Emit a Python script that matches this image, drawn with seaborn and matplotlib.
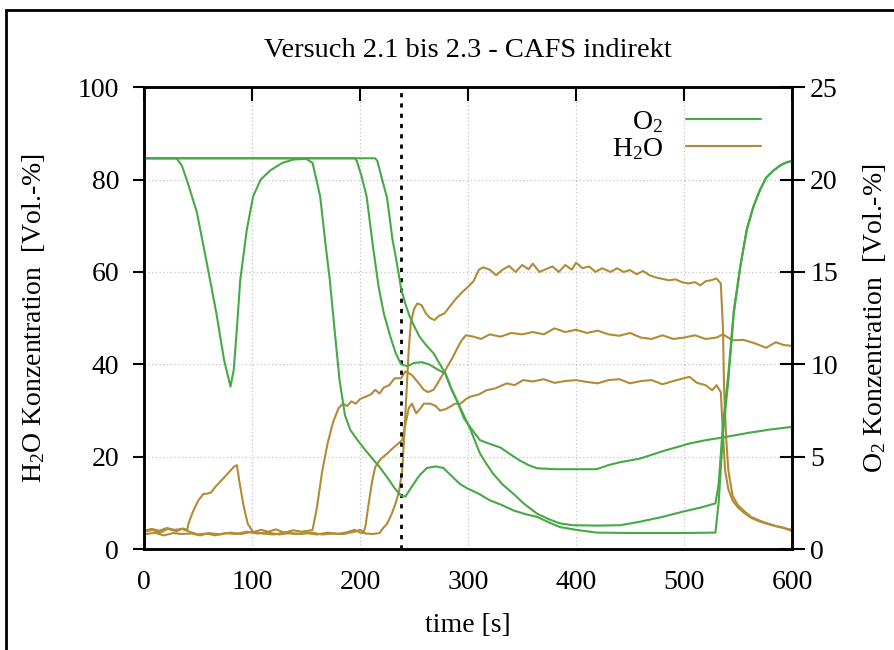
"""Versuch 2.1 bis 2.3 - CAFS indirekt: O2 and H2O concentration over time."""

import matplotlib

matplotlib.use("Agg")

import matplotlib.pyplot as plt
import pandas as pd
import seaborn as sns
from matplotlib.patches import Rectangle

GREEN, GOLD, GRID = "#46a946", "#b38b36", "#c4c4c4"

# --- O2 concentration [Vol.-%] (right axis), three runs -----------------
t_o2_a = [0, 30, 35, 40, 49, 58, 67, 74, 80, 83, 86, 89, 95, 101, 108, 117,
          128, 138, 150, 156, 163, 168, 172, 177, 181, 186, 191, 197, 203,
          210, 218, 225, 232, 238, 242, 248, 255, 262, 270, 277, 285, 292,
          299, 310, 320, 331, 342, 353, 364, 375, 385, 400, 419, 450, 500,
          529, 532, 536, 541, 546, 552, 558, 564, 570, 576, 583, 590, 596, 600]
o2_a = [21.15, 21.15, 20.75, 19.9, 18.2, 15.5, 12.75, 10.25, 8.8, 9.7, 12.0,
        14.55, 17.25, 19.1, 20.0, 20.5, 20.9, 21.08, 21.12, 20.9, 19.1, 16.5,
        14.55, 11.5, 9.15, 7.25, 6.45, 5.95, 5.5, 5.0, 4.45, 3.9, 3.3, 2.9,
        2.85, 3.4, 4.0, 4.4, 4.48, 4.4, 3.95, 3.55, 3.3, 3.0, 2.65, 2.4, 2.1,
        1.9, 1.75, 1.45, 1.2, 1.05, 0.9, 0.88, 0.88, 0.9, 2.5, 6.25, 9.15,
        12.75, 15.25, 17.25, 18.5, 19.4, 20.1, 20.5, 20.8, 20.95, 21.0]

t_o2_b = [0, 195, 197, 201, 206, 212, 217, 222, 228, 233, 238, 244, 250, 257,
          264, 271, 279, 285, 290, 296, 302, 311, 320, 330, 340, 348, 356,
          364, 380, 400, 419, 430, 440, 459, 480, 505, 520, 536, 560, 580, 600]
o2_b = [21.15, 21.15, 21.0, 20.25, 19.1, 16.35, 14.25, 12.75, 11.5, 10.6,
        10.0, 9.9, 10.08, 10.12, 10.0, 9.75, 9.5, 8.6, 8.0, 7.1, 6.6, 5.9,
        5.7, 5.5, 5.1, 4.8, 4.55, 4.38, 4.33, 4.33, 4.33, 4.55, 4.7, 4.9, 5.3,
        5.72, 5.9, 6.05, 6.3, 6.48, 6.62]

t_o2_c = [0, 214, 216, 220, 225, 230, 234, 238, 242, 246, 250, 255, 261, 268,
          274, 279, 284, 290, 296, 302, 311, 317, 323, 332, 342, 352, 364,
          375, 385, 397, 420, 441, 460, 480, 500, 515, 529, 532, 536, 541,
          546, 552, 558, 564, 570, 576, 583, 590, 596, 600]
o2_c = [21.15, 21.15, 21.0, 20.1, 19.0, 16.75, 15.5, 14.1, 13.25, 12.58,
        12.08, 11.5, 11.05, 10.6, 10.0, 9.5, 8.75, 8.0, 7.25, 6.5, 5.18, 4.62,
        4.1, 3.5, 3.0, 2.45, 1.92, 1.62, 1.4, 1.3, 1.28, 1.3, 1.5, 1.75, 2.05,
        2.25, 2.48, 3.5, 6.75, 9.5, 12.9, 15.3, 17.3, 18.5, 19.4, 20.1, 20.5,
        20.8, 20.95, 21.0]

# --- H2O concentration [Vol.-%] (left axis), three runs -----------------
t_h2o_a = [0, 8, 15, 22, 30, 36, 40, 41, 45, 50, 55, 58, 62, 66, 72, 78, 83,
           86, 88, 92, 96, 101, 108, 115, 122, 130, 138, 146, 152, 156, 160,
           165, 170, 175, 180, 184, 188, 192, 196, 200, 205, 210, 214, 218,
           222, 227, 232, 238, 242, 248, 254, 259, 263, 268, 272, 277, 282,
           286, 290, 294, 298, 305, 312, 320, 330, 340, 350, 360, 370, 380,
           390, 400, 410, 420, 430, 440, 450, 460, 470, 480, 490, 500, 510,
           520, 530, 536, 545, 555, 565, 576, 585, 592, 600]
h2o_a = [3.8, 4.2, 3.6, 4.4, 3.9, 4.5, 4.2, 5.5, 8.0, 10.5, 12.0, 12.0, 12.3,
         13.5, 15.0, 16.5, 17.8, 18.2, 15.0, 9.5, 5.5, 3.7, 4.2, 3.8, 4.3,
         3.6, 4.1, 3.8, 4.0, 4.2, 9.0, 17.0, 23.0, 27.5, 30.5, 31.5, 31.0,
         32.0, 31.5, 32.5, 33.0, 33.5, 34.5, 33.7, 35.0, 35.5, 37.0, 37.0,
         38.5, 37.7, 36.0, 34.5, 34.0, 34.5, 36.0, 38.0, 40.0, 41.6, 43.5,
         45.2, 46.3, 46.0, 45.5, 46.5, 46.0, 46.8, 46.5, 47.0, 46.5, 47.8,
         47.0, 47.5, 46.8, 47.3, 46.5, 46.2, 46.8, 45.8, 45.5, 46.3, 45.5,
         45.8, 46.3, 45.5, 45.8, 46.5, 45.2, 45.3, 44.6, 43.6, 44.8, 44.2,
         44.0]

t_h2o_b = [0, 10, 18, 27, 35, 44, 52, 60, 70, 80, 90, 100, 110, 120, 130,
           140, 150, 160, 170, 180, 188, 195, 200, 203, 205, 208, 211, 214,
           219, 225, 231, 236, 239, 242, 245, 248, 252, 256, 259, 265, 270,
           274, 279, 283, 288, 293, 298, 302, 310, 317, 325, 336, 343, 351,
           360, 370, 380, 390, 400, 410, 420, 430, 440, 450, 460, 470, 480,
           490, 500, 505, 512, 520, 526, 530, 534, 536, 538, 541, 545, 550,
           556, 562, 570, 577, 585, 592, 600]
h2o_b = [3.2, 3.6, 3.0, 3.5, 3.3, 3.4, 3.0, 3.5, 3.2, 3.6, 3.3, 3.8, 3.4,
         3.2, 3.6, 3.3, 3.5, 3.2, 3.6, 3.3, 3.7, 4.2, 3.6, 3.5, 5.0, 10.0,
         14.5, 17.8, 19.5, 20.7, 22.0, 23.0, 23.6, 27.0, 30.5, 31.5, 29.4,
         30.5, 31.5, 31.5, 31.0, 30.0, 30.3, 30.8, 31.5, 31.5, 32.5, 33.0,
         33.5, 34.4, 34.8, 35.9, 35.5, 36.6, 36.3, 36.8, 36.0, 36.4, 36.6,
         36.2, 35.9, 36.6, 36.8, 35.9, 36.4, 36.6, 35.7, 36.4, 37.0, 37.3,
         36.0, 35.5, 34.4, 35.5, 34.0, 25.0, 17.0, 13.0, 10.5, 9.0, 7.8, 6.8,
         6.0, 5.5, 5.0, 4.6, 4.2]

t_h2o_c = [0, 7, 14, 21, 28, 35, 42, 50, 58, 66, 75, 85, 95, 105, 115, 125,
           135, 145, 155, 165, 175, 185, 195, 200, 205, 212, 218, 221, 225,
           229, 233, 236, 239, 241, 243, 245, 247, 250, 253, 257, 261, 265,
           269, 273, 278, 283, 288, 294, 300, 305, 310, 314, 320, 326, 332,
           338, 344, 350, 356, 360, 366, 372, 378, 384, 390, 396, 400, 406,
           412, 418, 424, 432, 438, 444, 450, 456, 462, 468, 474, 480, 486,
           492, 498, 504, 510, 515, 520, 525, 530, 534, 536, 537, 539, 541,
           545, 550, 556, 562, 570, 577, 585, 590, 595, 600]
h2o_c = [4.0, 4.4, 4.0, 4.6, 4.2, 4.4, 3.8, 3.2, 3.4, 3.0, 3.5, 3.3, 3.8,
         3.4, 3.6, 3.2, 3.5, 3.3, 3.6, 3.2, 3.4, 3.3, 3.8, 4.2, 3.4, 3.3, 3.5,
         4.5, 5.5, 7.5, 10.0, 12.5, 17.0, 25.0, 34.0, 43.0, 49.0, 52.0, 53.2,
         52.8, 51.0, 50.0, 49.6, 50.5, 51.0, 52.5, 54.0, 55.5, 56.8, 58.0,
         60.5, 61.0, 60.5, 59.3, 60.5, 61.3, 60.0, 61.5, 60.6, 61.8, 60.0,
         60.6, 61.2, 60.0, 61.5, 60.5, 62.0, 60.8, 61.2, 60.0, 60.8, 60.0,
         60.8, 60.0, 60.4, 59.5, 60.2, 59.3, 58.8, 58.5, 58.2, 58.4, 57.8,
         57.5, 57.8, 57.1, 58.0, 58.2, 58.6, 57.5, 48.0, 35.0, 24.0, 17.0,
         11.5, 9.5, 8.2, 7.0, 6.2, 5.6, 5.0, 4.8, 4.4, 3.9]

T_MARK = 238  # dashed marker

sns.set_theme(style="white")
plt.rcParams.update(
    {
        "font.family": ["Liberation Serif", "DejaVu Serif"],
        "mathtext.fontset": "custom",
        "mathtext.rm": "Liberation Serif",
        "font.size": 20,
        "text.color": "black",
        "axes.labelcolor": "black",
        "xtick.color": "black",
        "ytick.color": "black",
    }
)

fig, ax = plt.subplots(figsize=(8.95, 6.5), dpi=100)
fig.subplots_adjust(left=0.161, right=0.885, bottom=0.155, top=0.866)
ax2 = ax.twinx()

for t, v in [(t_h2o_a, h2o_a), (t_h2o_b, h2o_b), (t_h2o_c, h2o_c)]:
    df = pd.DataFrame({"t": t, "v": v})
    sns.lineplot(data=df, x="t", y="v", ax=ax, color=GOLD, lw=1.5,
                 sort=False, estimator=None)
for t, v in [(t_o2_a, o2_a), (t_o2_b, o2_b), (t_o2_c, o2_c)]:
    df = pd.DataFrame({"t": t, "v": v})
    sns.lineplot(data=df, x="t", y="v", ax=ax2, color=GREEN, lw=1.5,
                 sort=False, estimator=None)

ax.axvline(T_MARK, color="black", lw=2, ls=(0, (1.5, 2.2)), zorder=5)

ax.set_xlim(0, 600)
ax.set_ylim(0, 100)
ax2.set_ylim(0, 25)
ax.set_xticks(range(0, 601, 100))
ax.set_yticks(range(0, 101, 20))
ax2.set_yticks(range(0, 26, 5))

ax.grid(True, color=GRID, ls=(0, (1, 2)), lw=0.9)
ax.set_axisbelow(True)

ax.tick_params(axis="y", direction="out", length=8, width=1.5, pad=10,
               labelsize=20)
ax.tick_params(axis="x", direction="in", length=10, width=1.5, pad=15,
               top=True, labelsize=20)
ax2.tick_params(axis="y", direction="inout", length=18, width=1.5, pad=4,
                labelsize=20)
for a in (ax, ax2):
    for s in a.spines.values():
        s.set_linewidth(1.8)
        s.set_color("black")

ax.set_xlabel("time [s]", fontsize=20, labelpad=13)
ax.set_ylabel(r"$\mathregular{H_2O}$ Konzentration  [Vol.-%]", fontsize=20,
              labelpad=22)
ax2.set_ylabel(r"$\mathregular{O_2}$ Konzentration  [Vol.-%]", fontsize=20,
               labelpad=17)
ax.set_title("Versuch 2.1 bis 2.3 - CAFS indirekt", fontsize=20.5, pad=22)

ax2.legend(
    handles=[ax2.lines[0], ax.lines[0]],
    labels=[r"$\mathregular{O_2}$", r"$\mathregular{H_2O}$"],
    loc="upper right",
    bbox_to_anchor=(0.96, 0.965),
    frameon=False,
    markerfirst=False,
    fontsize=20,
    handlelength=2.7,
    labelspacing=0.05,
    borderaxespad=0,
    borderpad=0.2,
)

fig.add_artist(Rectangle((0.007, -0.02), 1.1, 1.005, transform=fig.transFigure,
                         fill=False, lw=2, ec="black"))

fig.savefig("out.png", dpi=100)
